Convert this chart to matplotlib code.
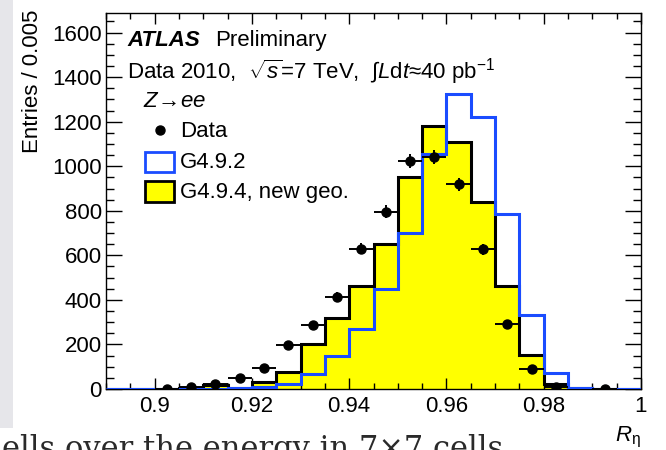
import numpy as np
import matplotlib
matplotlib.use("Agg")
import matplotlib.pyplot as plt
from matplotlib.patches import Rectangle
from matplotlib.lines import Line2D

plt.rcParams['font.family'] = ['Liberation Sans', 'DejaVu Sans']
plt.rcParams['mathtext.fontset'] = 'custom'
plt.rcParams['mathtext.rm'] = 'Liberation Sans'
plt.rcParams['mathtext.it'] = 'Liberation Sans:italic'
plt.rcParams['mathtext.bf'] = 'Liberation Sans:bold'

# ---- data ----
bin_edges = np.round(np.arange(0.89, 1.0 + 1e-9, 0.005), 4)
g494_new_geo = [0, 0, 0, 3, 20, 6, 30, 75, 200, 317, 462, 652, 953, 1182,
                1111, 841, 464, 151, 22, 3, 0, 0]
g492 = [0, 0, 0, 1, 2, 3, 8, 22, 67, 150, 268, 450, 699, 1055,
        1323, 1223, 784, 331, 70, 4, 0, 0]
data_centers = [0.9025, 0.9075, 0.9125, 0.9175, 0.9225, 0.9275, 0.9325,
                0.9375, 0.9425, 0.9475, 0.9525, 0.9575, 0.9625, 0.9675,
                0.9725, 0.9775, 0.9825, 0.9925]
data_values = [1, 7, 22, 51, 96, 196, 287, 413, 629, 796, 1024, 1042, 919,
               627, 293, 91, 8, 1]
x_tick_values = [0.9, 0.92, 0.94, 0.96, 0.98, 1.0]
x_tick_labels = ['0.9', '0.92', '0.94', '0.96', '0.98', '1']
y_tick_values = [0, 200, 400, 600, 800, 1000, 1200, 1400, 1600]

W, H = 666, 450
fig = plt.figure(figsize=(W / 100, H / 100), dpi=100)
fig.patch.set_facecolor('white')

# grey scan band at left
fig.patches.append(Rectangle((0, 1 - 428 / H), 13 / W, 428 / H,
                             transform=fig.transFigure, facecolor='#e6e6ea',
                             edgecolor='none', zorder=0))

ax_l, ax_r, ax_t, ax_b = 106, 641, 13, 389
ax = fig.add_axes([ax_l / W, 1 - ax_b / H, (ax_r - ax_l) / W, (ax_b - ax_t) / H])

ax.stairs(g494_new_geo, bin_edges, fill=True, color='#ffff00', zorder=1)
ax.stairs(g494_new_geo, bin_edges, color='black', linewidth=2.2, zorder=2)
ax.stairs(g492, bin_edges, color='#1a4cff', linewidth=2.2, zorder=3)

yerr = np.sqrt(np.array(data_values, dtype=float))
ax.errorbar(data_centers, data_values, xerr=0.0025, yerr=yerr, fmt='o',
            color='black', markersize=6.5, elinewidth=1.4, capsize=0, zorder=4)

ax.set_xlim(0.89, 1.0)
ax.set_ylim(0, 1688)
ax.set_xticks(x_tick_values)
ax.set_xticklabels(x_tick_labels)
ax.set_xticks(np.arange(0.89, 1.0001, 0.005), minor=True)
ax.set_yticks(y_tick_values)
ax.set_yticks(np.arange(0, 1688, 50), minor=True)

ax.tick_params(which='both', direction='in', top=True, right=True,
               labelsize=16, width=1.0)
ax.tick_params(axis='y', which='major', length=11.5, pad=3)
ax.tick_params(axis='y', which='minor', length=5.8)
ax.tick_params(axis='x', which='major', length=8, pad=5)
ax.tick_params(axis='x', which='minor', length=4)
for s in ax.spines.values():
    s.set_linewidth(1.0)

ax.set_ylabel('Entries / 0.005', fontsize=16, loc='top')
ax.yaxis.set_label_coords(-0.118, 1.01)
ax.set_xlabel(r'$R_{\mathrm{\eta}}$', fontsize=16, loc='right')
ax.xaxis.set_label_coords(1.0, -0.095)

tr = ax.transAxes
def ax_x(px):
    return (px - ax_l) / (ax_r - ax_l)
def ax_y(py):
    return (ax_b - py) / (ax_b - ax_t)

ax.text(ax_x(127), ax_y(46), 'ATLAS', transform=tr, fontsize=16,
        fontweight='bold', fontstyle='italic', va='baseline')
ax.text(ax_x(215), ax_y(46), 'Preliminary', transform=tr, fontsize=16,
        va='baseline')
ax.text(ax_x(127), ax_y(79),
        r'Data 2010,  $\sqrt{s}$=7 TeV,  $\int$$L$d$t$≈40 pb$^{-1}$',
        transform=tr, fontsize=16, va='baseline')
ax.text(ax_x(143), ax_y(107), r'$Z\!\rightarrow\! ee$', transform=tr,
        fontsize=16, va='baseline')

# legend
ax.add_line(Line2D([ax_x(160)], [ax_y(130)], marker='o', color='black',
                   markersize=6.5, transform=tr, linestyle='none'))
ax.text(ax_x(180), ax_y(137), 'Data', transform=tr, fontsize=16, va='baseline')
ax.add_patch(Rectangle((ax_x(145), ax_y(172)), ax_x(174) - ax_x(145),
                       ax_y(152) - ax_y(172), transform=tr, facecolor='white',
                       edgecolor='#1a4cff', linewidth=2.0, zorder=5))
ax.text(ax_x(180), ax_y(168), 'G4.9.2', transform=tr, fontsize=16,
        va='baseline')
ax.add_patch(Rectangle((ax_x(145), ax_y(202)), ax_x(174) - ax_x(145),
                       ax_y(181) - ax_y(202), transform=tr, facecolor='#ffff00',
                       edgecolor='black', linewidth=2.0, zorder=5))
ax.text(ax_x(180), ax_y(198), 'G4.9.4, new geo.', transform=tr, fontsize=16,
        va='baseline')

# clipped caption text from the page below
fig.text(2 / W, 1 - 458 / H, 'ells over the energy in 7×7 cells',
         fontsize=22, family=['DejaVu Serif'],
         color='#2a2a2a', va='baseline', ha='left')

fig.savefig('out.png', dpi=100)
